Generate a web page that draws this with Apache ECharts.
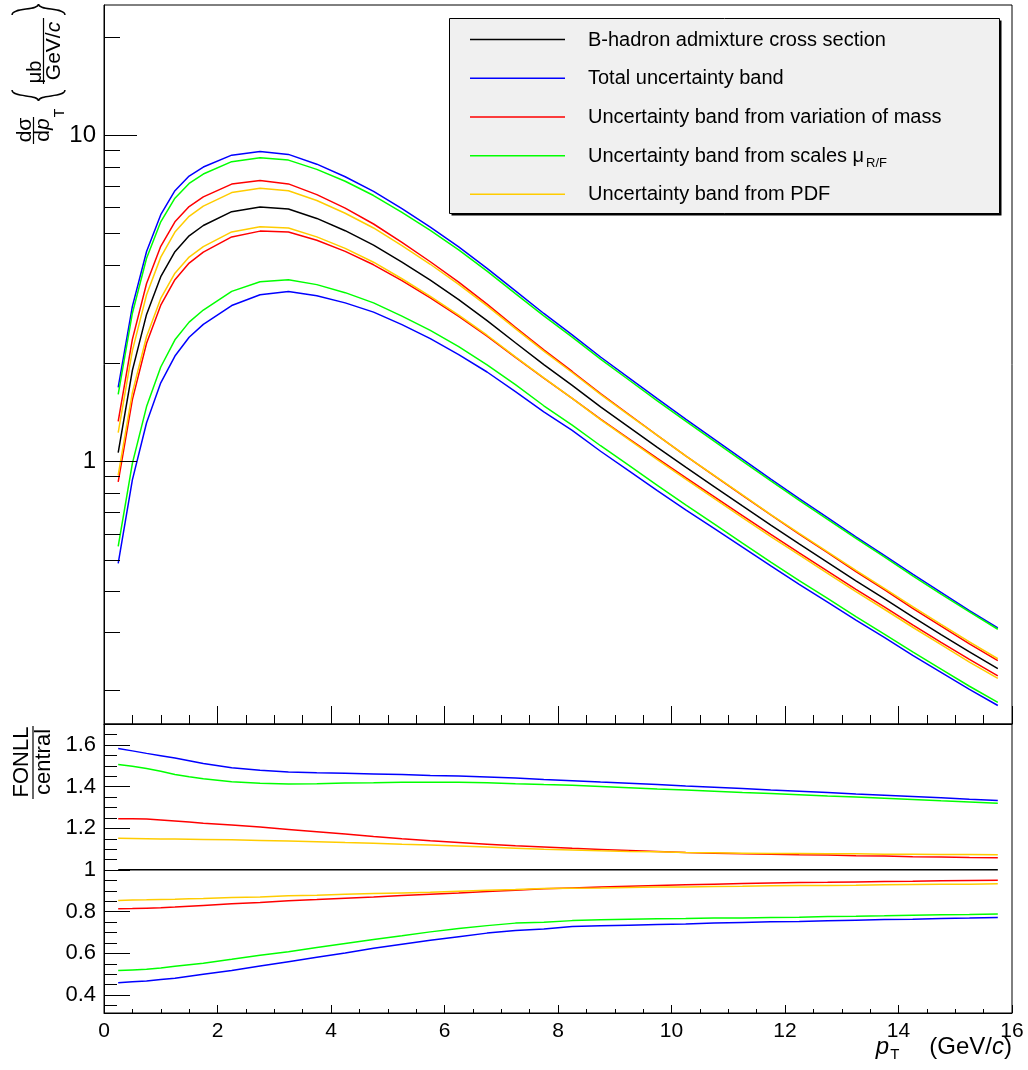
<!DOCTYPE html>
<html><head><meta charset="utf-8">
<script src="https://cdn.jsdelivr.net/npm/echarts@6/dist/echarts.min.js"></script>
<style>html,body{margin:0;padding:0;background:#fff}#c{width:1028px;height:1070px}</style>
</head><body><div id="c"></div>
<script>
// ---- data ----
const pt = [0.25,0.5,0.75,1.0,1.25,1.5,1.75,2.25,2.75,3.25,3.75,4.25,4.75,5.25,5.75,6.25,6.75,7.25,7.75,
            8.25,8.75,9.25,9.75,10.25,10.75,11.25,11.75,12.25,12.75,13.25,13.75,14.25,14.75,15.25,15.75];
const central = [1.065,1.90,2.82,3.68,4.39,4.91,5.28,5.82,6.02,5.93,5.55,5.09,4.60,4.08,3.59,3.13,2.70,2.31,1.98,
                 1.71,1.47,1.274,1.105,0.961,0.838,0.731,0.638,0.559,0.491,0.431,0.380,0.334,0.295,0.261,0.232];
const ratioCentral = [1,1,1,1,1,1,1,1,1,1,1,1,1,1,1,1,1,1,1,1,1,1,1,1,1,1,1,1,1,1,1,1,1,1,1];
const ratioTotalUp = [1.582,1.571,1.559,1.548,1.537,1.524,1.510,1.490,1.478,1.470,1.466,1.463,1.460,1.457,1.453,1.450,1.446,1.441,1.434,
                      1.428,1.421,1.415,1.409,1.402,1.396,1.390,1.383,1.377,1.371,1.364,1.358,1.352,1.346,1.339,1.333];
const ratioTotalDown = [0.458,0.462,0.466,0.473,0.479,0.489,0.498,0.516,0.538,0.559,0.580,0.601,0.623,0.643,0.662,0.679,0.696,0.708,0.716,
                        0.728,0.731,0.734,0.737,0.740,0.744,0.747,0.750,0.752,0.755,0.758,0.761,0.763,0.766,0.768,0.771];
const ratioMassUp = [1.245,1.245,1.244,1.239,1.234,1.229,1.224,1.215,1.205,1.194,1.183,1.172,1.160,1.149,1.139,1.131,1.123,1.115,1.109,
                     1.103,1.098,1.093,1.088,1.083,1.080,1.077,1.075,1.072,1.071,1.067,1.066,1.063,1.061,1.059,1.058];
const ratioMassDown = [0.8125,0.814,0.816,0.818,0.821,0.825,0.829,0.837,0.843,0.851,0.857,0.864,0.870,0.877,0.883,0.889,0.896,0.902,0.909,
                       0.913,0.917,0.921,0.925,0.928,0.931,0.934,0.937,0.939,0.940,0.942,0.944,0.945,0.947,0.949,0.950];
const ratioScaleUp = [1.506,1.497,1.486,1.473,1.458,1.447,1.4375,1.423,1.415,1.412,1.413,1.417,1.418,1.420,1.420,1.420,1.418,1.413,1.409,
                      1.406,1.400,1.394,1.388,1.383,1.377,1.371,1.366,1.360,1.354,1.349,1.343,1.337,1.331,1.326,1.320];
const ratioScaleDown = [0.516,0.519,0.522,0.529,0.537,0.544,0.551,0.570,0.590,0.607,0.627,0.646,0.665,0.683,0.702,0.718,0.732,0.744,0.748,
                        0.756,0.760,0.763,0.765,0.766,0.768,0.769,0.771,0.772,0.776,0.777,0.779,0.782,0.784,0.785,0.788];
const ratioPdfUp = [1.151,1.150,1.149,1.148,1.148,1.147,1.146,1.144,1.141,1.138,1.135,1.131,1.128,1.123,1.119,1.114,1.109,1.104,1.099,
                    1.095,1.091,1.088,1.087,1.083,1.082,1.080,1.078,1.078,1.077,1.077,1.075,1.075,1.074,1.074,1.072];
const ratioPdfDown = [0.853,0.855,0.856,0.858,0.859,0.861,0.862,0.867,0.870,0.875,0.878,0.883,0.886,0.889,0.892,0.897,0.902,0.905,0.910,
                      0.912,0.913,0.915,0.917,0.918,0.920,0.921,0.923,0.925,0.925,0.926,0.928,0.930,0.931,0.931,0.933];

const legendNames = ['B-hadron admixture cross section','Total uncertainty band',
  'Uncertainty band from variation of mass','Uncertainty band from scales \u03bc','Uncertainty band from PDF'];
const legendSub = ['','','','R/F',''];

// axis ticks
const xTickLabels = [0,2,4,6,8,10,12,14,16];
const yTopMinorTicks = [0.2,0.3,0.4,0.5,0.6,0.7,0.8,0.9,2,3,4,5,6,7,8,9,20];
const yTopMajorTicks = [1,10];
const yRatioMajor = [0.4,0.6,0.8,1,1.2,1.4,1.6];
const yRatioMinor = [0.35,0.45,0.5,0.55,0.65,0.7,0.75,0.85,0.9,0.95,1.05,1.1,1.15,1.25,1.3,1.35,1.45,1.5,1.55,1.65];

// ---- style ----
const FONT = 'Liberation Sans, Arial, Helvetica, sans-serif';
const COL = {central:'#000000', total:'#0000ff', mass:'#ff0000', scale:'#00ff00', pdf:'#ffcc00'};
const LW = 1.5;

const chart = echarts.init(document.getElementById('c'), null, {renderer:'canvas'});

function line(name, ys, color, xi, yi, z) {
  return {type:'line', name, xAxisIndex:xi, yAxisIndex:yi, data: pt.map((x,i)=>[x, ys[i]]),
    showSymbol:false, symbol:'none', smooth:false, animation:false, silent:true, z,
    lineStyle:{color, width:LW}, itemStyle:{color}};
}
const band = r => central.map((v,i)=>v*r[i]);

function tickSeries(values, xi, yi, len) {
  return {type:'custom', xAxisIndex:xi, yAxisIndex:yi, silent:true, animation:false, z:20, clip:false,
    data: values.map(v=>[0, v]),
    renderItem: (params, api) => {
      const p = api.coord([api.value(0), api.value(1)]);
      const y = Math.round(p[1]) + 0.5;
      return {type:'line', shape:{x1:p[0], y1:y, x2:p[0]+len, y2:y}, style:{stroke:'#000', lineWidth:1}};
    }};
}

const series = [
  line(legendNames[0], central, COL.central, 0, 0, 3),
  line(legendNames[1], band(ratioTotalUp), COL.total, 0, 0, 4),
  line(legendNames[1], band(ratioTotalDown), COL.total, 0, 0, 4),
  line(legendNames[2], band(ratioMassUp), COL.mass, 0, 0, 5),
  line(legendNames[2], band(ratioMassDown), COL.mass, 0, 0, 5),
  line(legendNames[3], band(ratioScaleUp), COL.scale, 0, 0, 6),
  line(legendNames[3], band(ratioScaleDown), COL.scale, 0, 0, 6),
  line(legendNames[4], band(ratioPdfUp), COL.pdf, 0, 0, 7),
  line(legendNames[4], band(ratioPdfDown), COL.pdf, 0, 0, 7),
  line(legendNames[0], ratioCentral, COL.central, 1, 1, 3),
  line(legendNames[1], ratioTotalUp, COL.total, 1, 1, 4),
  line(legendNames[1], ratioTotalDown, COL.total, 1, 1, 4),
  line(legendNames[2], ratioMassUp, COL.mass, 1, 1, 5),
  line(legendNames[2], ratioMassDown, COL.mass, 1, 1, 5),
  line(legendNames[3], ratioScaleUp, COL.scale, 1, 1, 6),
  line(legendNames[3], ratioScaleDown, COL.scale, 1, 1, 6),
  line(legendNames[4], ratioPdfUp, COL.pdf, 1, 1, 7),
  line(legendNames[4], ratioPdfDown, COL.pdf, 1, 1, 7),
  tickSeries(yTopMajorTicks, 0, 0, 33),
  tickSeries(yTopMinorTicks, 0, 0, 16),
  tickSeries(yRatioMajor, 1, 1, 26),
  tickSeries(yRatioMinor, 1, 1, 13)
];

const axisLineStyle = {show:true, lineStyle:{color:'#000', width:1}};
const xBase = {type:'value', min:0, max:16, interval:2, position:'bottom', axisLine:axisLineStyle,
  splitLine:{show:false}};

// legend graphics
const legendRows = [39.5, 78.3, 117, 155.7, 194.3];
const legendColors = [COL.central, COL.total, COL.mass, COL.scale, COL.pdf];
const graphics = [
  {type:'rect', shape:{x:451.5, y:20.5, width:550, height:195}, style:{fill:'#000'}, z:99},
  {type:'rect', shape:{x:449.5, y:18.5, width:550, height:195}, style:{fill:'#f0f0f0', stroke:'#000', lineWidth:1}, z:100}
];
legendNames.forEach((n,i)=>{
  graphics.push({type:'line', shape:{x1:470, y1:legendRows[i], x2:565, y2:legendRows[i]},
    style:{stroke:legendColors[i], lineWidth:LW}, z:101});
  graphics.push({type:'text', x:588, y:legendRows[i]-9.5, z:101, style:{
    text: '{n|' + n + '}' + (legendSub[i] ? '{s|' + legendSub[i] + '}' : ''),
    align:'left', verticalAlign:'top', fill:'#000',
    rich:{n:{fontFamily:FONT, fontSize:20, lineHeight:24, verticalAlign:'top', fill:'#000'},
          s:{fontFamily:FONT, fontSize:13, lineHeight:14, padding:[17,0,0,2], verticalAlign:'bottom', fill:'#000'}}}});
});

// axis titles
const R = Math.PI/2;
const tt = (text, x, y, size, style) => ({type:'text', x, y, rotation:R, z:101,
  style:{text, font:(style||'') + ' ' + size + 'px ' + FONT, align:'center', verticalAlign:'middle', fill:'#000'}});
const curve = (x1,y1,c1x,c1y,c2x,c2y,x2,y2) => ({type:'bezierCurve', z:101,
  shape:{x1, y1, cpx1:c1x, cpy1:c1y, cpx2:c2x, cpy2:c2y, x2, y2}, style:{stroke:'#000', lineWidth:1.4, fill:null}});
graphics.push(
  tt('d\u03c3', 25.5, 130, 21),
  {type:'line', shape:{x1:33.5, y1:117, x2:33.5, y2:144}, style:{stroke:'#000', lineWidth:1.2}, z:101},
  {type:'text', x:43.5, y:130, rotation:R, z:101, style:{text:'{n|d}{i|p}', align:'center', verticalAlign:'middle',
     rich:{n:{fontFamily:FONT, fontSize:21, fill:'#000'}, i:{fontFamily:FONT, fontSize:21, fontStyle:'italic', fill:'#000'}}}},
  tt('T', 60, 113, 14),
  tt('\u03bcb', 35.5, 72, 20),
  {type:'line', shape:{x1:43.5, y1:18, x2:43.5, y2:84}, style:{stroke:'#000', lineWidth:1.2}, z:101},
  {type:'text', x:54, y:51, rotation:R, z:101, style:{text:'{n|GeV/}{i|c}', align:'center', verticalAlign:'middle',
     rich:{n:{fontFamily:FONT, fontSize:21, fill:'#000'}, i:{fontFamily:FONT, fontSize:21, fontStyle:'italic', fill:'#000'}}}},
  // braces
  curve(12,90, 12,98, 38.5,94, 38.5,101),
  curve(65,90, 65,98, 38.5,94, 38.5,101),
  curve(12,15, 12,7, 38.5,11, 38.5,4),
  curve(65,15, 65,7, 38.5,11, 38.5,4),
  // ratio title
  tt('FONLL', 22, 762, 22),
  {type:'line', shape:{x1:33, y1:726, x2:33, y2:799}, style:{stroke:'#000', lineWidth:1.2}, z:101},
  tt('central', 44, 762, 22),
  // x title
  {type:'text', x:1012, y:1035, z:101, style:{
    text:'{i|p}{s|T}{g|(GeV/}{i|c}{n|)}', align:'right', verticalAlign:'top',
    rich:{i:{fontFamily:FONT, fontSize:24, fontStyle:'italic', lineHeight:27, verticalAlign:'top', fill:'#000'},
          n:{fontFamily:FONT, fontSize:24, lineHeight:27, verticalAlign:'top', fill:'#000'},
          g:{fontFamily:FONT, fontSize:24, lineHeight:27, verticalAlign:'top', fill:'#000', padding:[0,0,0,30]},
          s:{fontFamily:FONT, fontSize:15, lineHeight:16, padding:[21,0,0,1], verticalAlign:'bottom', fill:'#000'}}}}
);

const option = {
  backgroundColor:'#fff',
  animation:false,
  grid:[
    {left:104, top:5, width:908, height:719, show:true, borderColor:'#000', borderWidth:1, backgroundColor:'transparent', containLabel:false},
    {left:104, top:724, width:908, height:289, show:true, borderColor:'#000', borderWidth:1, backgroundColor:'transparent', containLabel:false}
  ],
  xAxis:[
    Object.assign({}, xBase, {gridIndex:0, axisLabel:{show:false},
      axisTick:{show:true, inside:true, length:18, lineStyle:{color:'#000'}},
      minorTick:{show:true, splitNumber:4, length:9, lineStyle:{color:'#000'}}}),
    Object.assign({}, xBase, {gridIndex:1,
      axisLabel:{show:true, fontFamily:FONT, fontSize:21, color:'#000', margin:8,
        formatter: v => xTickLabels.indexOf(v) >= 0 ? String(v) : ''},
      axisTick:{show:true, inside:true, length:8, lineStyle:{color:'#000'}},
      minorTick:{show:true, splitNumber:4, length:4, lineStyle:{color:'#000'}}})
  ],
  yAxis:[
    {gridIndex:0, type:'log', logBase:10, min:0.157, max:25, position:'left', axisLine:axisLineStyle,
     axisTick:{show:false}, splitLine:{show:false}, minorTick:{show:false},
     axisLabel:{show:true, showMinLabel:false, showMaxLabel:false, fontFamily:FONT, fontSize:24, color:'#000', margin:8,
       formatter: v => yTopMajorTicks.indexOf(Math.round(v*1000)/1000) >= 0 ? String(Math.round(v)) : ''}},
    {gridIndex:1, type:'value', min:0.3125, max:1.70, position:'left', axisLine:axisLineStyle,
     axisTick:{show:false}, splitLine:{show:false},
     axisLabel:{show:true, customValues:yRatioMajor, fontFamily:FONT, fontSize:22, color:'#000', margin:8,
       formatter: v => String(Math.round(v*10)/10)}}
  ],
  series,
  graphic: graphics
};
chart.setOption(option);
</script>
</body></html>
